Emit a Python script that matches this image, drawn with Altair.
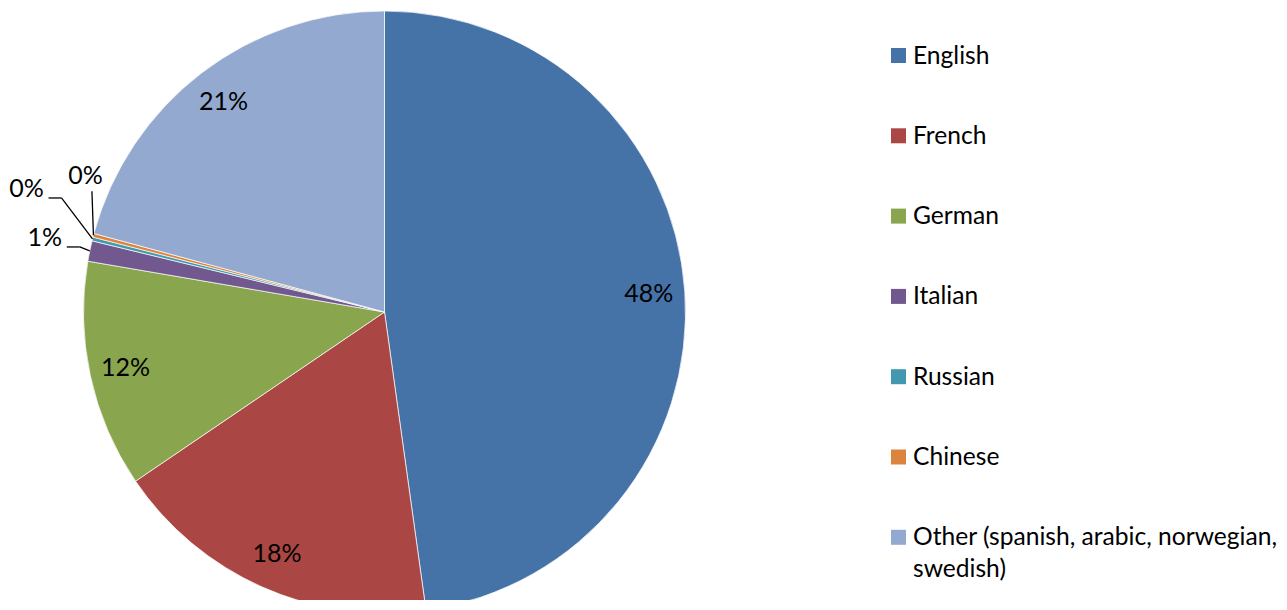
import altair as alt
import pandas as pd

# ---- data ----
languages = ["English", "French", "German", "Italian", "Russian", "Chinese",
             "Other (spanish, arabic, norwegian, swedish)"]
shares = [47.8, 17.7, 12.2, 1.1, 0.2, 0.2, 20.8]
colors = ["#4572A7", "#AA4643", "#89A54E", "#71588F", "#4198AF", "#DB843D", "#93A9CF"]

# ---- leader-line layout for the tiny slices (offsets from the slice edge, px) ----
leader_langs = ["Italian", "Russian", "Chinese"]
elbow_dx = [-10, -31, -1.5]
elbow_dy = [-4, -41, -44]
end_dx = [-23, -44, -1.5]
end_dy = [-4, -41, -44]
label_dx = [-45, -66, -8]
label_dy = [-13, -50, -59]

# ---- layout ----
W, H = 1271, 592
CX, CY, R = 376.5, 304, 301
FONT = "Lato"
FS = 25
LEG_FS = 24.6
LEG_SYM_X, LEG_TXT_X, LEG_Y0, LEG_STEP = 890.5, 905, 47.5, 80.3

df = pd.DataFrame({"language": languages, "share": shares, "idx": list(range(len(languages)))})
offs = pd.DataFrame({"language": leader_langs, "ex": elbow_dx, "ey": elbow_dy,
                     "fx": end_dx, "fy": end_dy, "lx": label_dx, "ly": label_dy})

xs = alt.Scale(domain=[0, W], range=[0, W], nice=False, zero=False)
ys = alt.Scale(domain=[0, H], reverse=True, nice=False, zero=False)
cscale = alt.Scale(domain=languages, range=colors)

pie = alt.Chart(df).mark_arc(outerRadius=R, stroke="white", strokeWidth=0.7).encode(
    theta=alt.Theta("share:Q", stack=True),
    color=alt.Color("language:N", sort=languages, scale=cscale, legend=None),
    order=alt.Order("idx:Q"),
    x=alt.value(CX), y=alt.value(CY),
)

inner = alt.Chart(df).transform_joinaggregate(total="sum(share)").transform_calculate(
    lab="datum.share >= 5 ? format(datum.share / datum.total, '.0%') : ''"
).mark_text(radius=265, font=FONT, fontSize=FS, color="black").encode(
    theta=alt.Theta("share:Q", stack=True),
    order=alt.Order("idx:Q"),
    text="lab:N",
    x=alt.value(CX), y=alt.value(CY),
)

lead = alt.Chart(df).transform_joinaggregate(total="sum(share)").transform_window(
    cum="sum(share)", sort=[alt.SortField("idx")], frame=[None, 0]
).transform_calculate(
    mid="(datum.cum - datum.share / 2) / datum.total * 2 * PI",
    pct="format(datum.share / datum.total, '.0%')",
).transform_lookup(
    lookup="language",
    from_=alt.LookupData(data=offs, key="language", fields=["ex", "ey", "fx", "fy", "lx", "ly"]),
).transform_filter("isValid(datum.ex)").transform_calculate(
    px=f"{CX} + {R} * sin(datum.mid)",
    py=f"{CY} - {R} * cos(datum.mid)",
).transform_calculate(
    qx="datum.px + datum.ex", qy="datum.py + datum.ey",
    rx="datum.px + datum.fx", ry="datum.py + datum.fy",
    tx="datum.px + datum.lx", ty="datum.py + datum.ly",
)

seg1 = lead.mark_rule(color="black", strokeWidth=1.3).encode(
    x=alt.X("px:Q", scale=xs, axis=None), y=alt.Y("py:Q", scale=ys, axis=None),
    x2="qx:Q", y2="qy:Q")
seg2 = lead.mark_rule(color="black", strokeWidth=1.3).encode(
    x=alt.X("qx:Q", scale=xs, axis=None), y=alt.Y("qy:Q", scale=ys, axis=None),
    x2="rx:Q", y2="ry:Q")
outer_txt = lead.mark_text(font=FONT, fontSize=FS, color="black").encode(
    x=alt.X("tx:Q", scale=xs, axis=None), y=alt.Y("ty:Q", scale=ys, axis=None),
    text="pct:N")

# ---- legend (drawn as marks so the long label can wrap like the original) ----
leg = alt.Chart(df).transform_calculate(
    ly=f"{LEG_Y0} + datum.idx * {LEG_STEP}",
    sx=f"{LEG_SYM_X}", tx=f"{LEG_TXT_X}",
    ty=f"{LEG_Y0} + datum.idx * {LEG_STEP} + 8",
    lbl="replace(datum.language, 'norwegian, ', 'norwegian,\\n')",
)
leg_sym = leg.mark_square(size=225, opacity=1, strokeWidth=0).encode(
    x=alt.X("sx:Q", scale=xs, axis=None), y=alt.Y("ly:Q", scale=ys, axis=None),
    color=alt.Color("language:N", sort=languages, scale=cscale, legend=None))
leg_txt = leg.mark_text(align="left", baseline="alphabetic", lineBreak="\n", lineHeight=32,
                        font=FONT, fontSize=LEG_FS, color="black").encode(
    x=alt.X("tx:Q", scale=xs, axis=None), y=alt.Y("ty:Q", scale=ys, axis=None),
    text="lbl:N")

chart = alt.layer(pie, inner, seg1, seg2, outer_txt, leg_sym, leg_txt).properties(
    width=W, height=H, padding=0, autosize=alt.AutoSizeParams(type="none"),
    background="white",
).configure_view(stroke=None)

chart.save("out.html", embed_options={"renderer": "svg", "actions": False})
